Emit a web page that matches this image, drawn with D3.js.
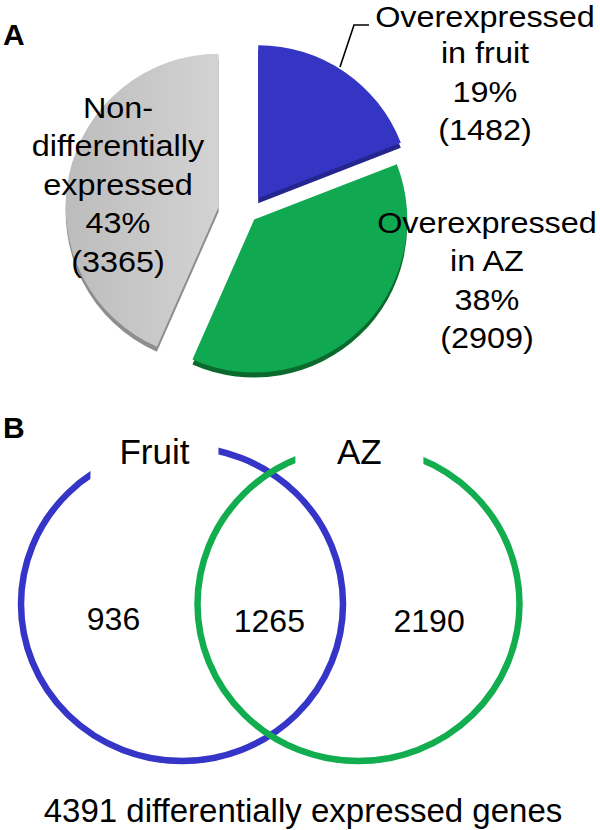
<!DOCTYPE html>
<html>
<head>
<meta charset="utf-8">
<script src="https://cdn.jsdelivr.net/npm/d3@7"></script>
<style>
  html, body { margin: 0; padding: 0; background: #fff; }
  svg { display: block; }
  text { font-family: "Liberation Sans", Arial, Helvetica, sans-serif; fill: #000; }
</style>
</head>
<body>
<svg id="chart" width="600" height="830"></svg>
<script>
// ---- Data (panel A: pie) ----
const pieCategories = ["Overexpressed in fruit", "Overexpressed in AZ", "Non-differentially expressed"];
const pieCounts = [1482, 2909, 3365];
const piePercents = ["19%", "38%", "43%"];
const pieLabelLines = [
  ["Overexpressed", "in fruit"],
  ["Overexpressed", "in AZ"],
  ["Non-", "differentially", "expressed"]
];

// ---- Data (panel B: Venn) ----
const vennSets = ["Fruit", "AZ"];
const vennRegions = ["Fruit only", "Both", "AZ only"];
const vennCounts = [936, 1265, 2190];
const vennTotalLabel = "4391 differentially expressed genes";

// ---- Styles / layout ----
const topColors = ["#3535c4", "#10a850", "url(#greyGrad)"];
const sideColors = ["#25258f", "#0a6a2d", "#8e8e8e"];
const explode = [18, 9, 30];
const vennColors = ["#3535c8", "#12ad4f"];

const svg = d3.select("#chart");
const defs = svg.append("defs");
const g1 = defs.append("linearGradient").attr("id", "greyGrad")
  .attr("x1", "0%").attr("x2", "100%").attr("y1", "0%").attr("y2", "0%");
g1.append("stop").attr("offset", "0%").attr("stop-color", "#bcbcbc");
g1.append("stop").attr("offset", "100%").attr("stop-color", "#d3d3d3");

// Panel labels
svg.append("text").attr("x", 3).attr("y", 45).attr("font-size", 30).attr("font-weight", "bold").text("A");
svg.append("text").attr("x", 3).attr("y", 438).attr("font-size", 30).attr("font-weight", "bold").text("B");

// ---- Pie ----
const cx = 248, cy = 213, R = 153, depth = 5;
const pie = d3.pie().sort(null).value(d => d)(pieCounts);
const arc = d3.arc().innerRadius(0).outerRadius(R);
const pieG = svg.append("g").attr("transform", `translate(${cx},${cy})`);

const slices = pieG.selectAll("g.slice").data(pie).join("g")
  .attr("class", "slice")
  .attr("transform", (d, i) => {
    const m = (d.startAngle + d.endAngle) / 2;
    return `translate(${explode[i] * Math.sin(m)},${-explode[i] * Math.cos(m)})`;
  });
slices.append("path").attr("d", arc).attr("transform", `translate(0,${depth})`)
  .attr("fill", (d, i) => sideColors[i]);
slices.append("path").attr("d", arc).attr("fill", (d, i) => topColors[i]);

// Pie labels
const pieLabelPos = [
  { x: 485, y: 25 },
  { x: 487, y: 233 },
  { x: 118, y: 118 }
];
const lh = 38.4;
const minBaseline = 27.5;
pieCategories.forEach((c, i) => {
  const lines = pieLabelLines[i].concat([piePercents[i], "(" + pieCounts[i] + ")"]);
  const t = svg.append("text").attr("font-size", 30).attr("text-anchor", "middle")
    .attr("transform", `translate(${pieLabelPos[i].x},0) scale(1.08,1)`);
  lines.forEach((ln, j) => {
    const yy = Math.max(minBaseline, pieLabelPos[i].y + j * lh);
    t.append("tspan").attr("x", 0).attr("y", yy).text(ln);
  });
});
// Leader line for fruit label
svg.append("path").attr("d", d3.line()([[369, 25], [354, 25], [340, 67]]))
  .attr("fill", "none").attr("stroke", "#000").attr("stroke-width", 1.6);

// ---- Venn ----
const xV = d3.scaleLinear().domain([-1, 1]).range([182, 358.5]);
const vy = 604, rx = 161, ry = 157;
const setPos = [-1, 1];
svg.selectAll("ellipse.set").data(vennSets).join("ellipse")
  .attr("class", "set")
  .attr("cx", (d, i) => xV(setPos[i])).attr("cy", vy)
  .attr("rx", rx).attr("ry", ry)
  .attr("fill", "none")
  .attr("stroke", (d, i) => vennColors[i])
  .attr("stroke-width", 6.5);

// set labels with white boxes covering the circle tops
const setLabelX = [-1.312, 1.01];
const lab = svg.selectAll("g.setlab").data(vennSets).join("g").attr("class", "setlab");
lab.append("rect")
  .attr("x", (d, i) => xV(setLabelX[i]) - 64).attr("y", 430)
  .attr("width", 128).attr("height", 53).attr("fill", "#fff");
lab.append("text")
  .attr("x", (d, i) => xV(setLabelX[i])).attr("y", 464)
  .attr("font-size", 35).attr("text-anchor", "middle")
  .text(d => d);

// region counts
const regionPos = [-1.776, -0.01, 1.80];
svg.selectAll("text.region").data(vennCounts).join("text")
  .attr("class", "region")
  .attr("x", (d, i) => xV(regionPos[i])).attr("y", (d, i) => i === 0 ? 630 : 632)
  .attr("font-size", 32).attr("text-anchor", "middle")
  .text(d => d);

svg.append("text").attr("x", 303).attr("y", 822).attr("font-size", 33)
  .attr("text-anchor", "middle").text(vennTotalLabel);
</script>
</body>
</html>
